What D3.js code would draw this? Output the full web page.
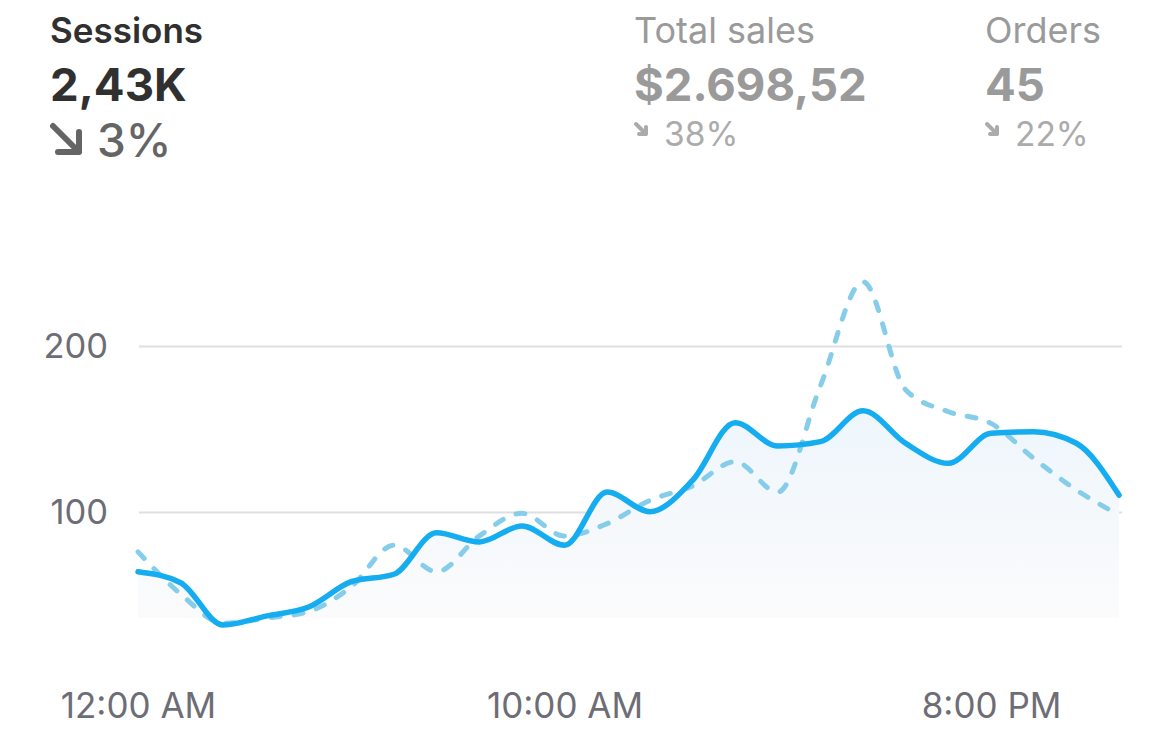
<!DOCTYPE html>
<html>
<head>
<meta charset="utf-8">
<script src="https://cdn.jsdelivr.net/npm/d3@7"></script>
<style>
  body { margin: 0; background: #fff; }
  svg { display: block; font-family: Inter, "Noto Sans", sans-serif; }
</style>
</head>
<body>
<svg id="chart"></svg>
<script>
// hourly data, 12 AM .. 11 PM
const hours = [0, 1, 2, 3, 4, 5, 6, 7, 8, 9, 10, 11, 12, 13, 14, 15, 16, 17, 18, 19, 20, 21, 22, 23];
const sessions = [64, 57.4, 31.9, 37.3, 42.8, 58, 62.5, 87.5, 82, 91.6, 80, 112, 100.2, 119, 153.8, 139.8, 142.4, 161, 141.3, 129.3, 147.4, 148.4, 141.4, 110.2];
const previous = [76, 50.6, 33, 36, 40, 55, 80, 64, 85.5, 99.2, 85.5, 93, 107, 115.7, 130.3, 112, 176, 238.7, 173.5, 160.4, 153.4, 132.3, 113.3, 98.2];

const xTickHours = [0, 10, 20];
const xTickLabels = ["12:00 AM", "10:00 AM", "8:00 PM"];
const yTicks = [100, 200];

// header metrics
const metricNames = ["Sessions", "Total sales", "Orders"];
const metricValues = ["2,43K", "$2.698,52", "45"];
const metricChanges = ["3%", "38%", "22%"];

const W = 1170, H = 753;
const svg = d3.select("#chart").attr("width", W).attr("height", H);

// --- header ---
const headerX = [50, 634, 985];
const header = svg.selectAll(".metric")
  .data(metricNames.map((n, i) => ({ name: n, value: metricValues[i], change: metricChanges[i], i })))
  .enter().append("g")
  .attr("class", "metric")
  .attr("transform", d => `translate(${headerX[d.i]},0)`);

header.append("text")
  .attr("y", 43)
  .style("font-size", d => d.i === 0 ? "35px" : "36px")
  .style("font-weight", d => d.i === 0 ? 600 : 400)
  .style("fill", d => d.i === 0 ? "#303030" : "#9a9a9a")
  .text(d => d.name);

header.append("text")
  .attr("y", 101)
  .style("font-size", "45.5px")
  .style("font-weight", 700)
  .style("fill", d => d.i === 0 ? "#303030" : "#9a9a9a")
  .text(d => d.value);

// arrows (icons)
header.each(function(d) {
  const g = d3.select(this);
  if (d.i === 0) {
    g.append("path")
      .attr("d", "M3,126 L29,152 M29,132 L29,152 L8,152")
      .attr("fill", "none")
      .attr("stroke", "#656565")
      .attr("stroke-width", 6)
      .attr("stroke-linecap", "round")
      .attr("stroke-linejoin", "round");
  } else {
    g.append("path")
      .attr("d", "M2,124 L12,134 M12,127 L12,134 L5,134")
      .attr("fill", "none")
      .attr("stroke", "#ababab")
      .attr("stroke-width", 4)
      .attr("stroke-linecap", "round")
      .attr("stroke-linejoin", "round");
  }
});

header.append("text")
  .attr("x", d => d.i === 0 ? 47 : 30)
  .attr("y", d => d.i === 0 ? 157 : 146)
  .style("font-size", d => d.i === 0 ? "46px" : "33.5px")
  .style("font-weight", d => d.i === 0 ? 500 : 400)
  .style("fill", d => d.i === 0 ? "#656565" : "#ababab")
  .text(d => d.change);

// --- chart ---
const x = d3.scaleLinear().domain([0, 23]).range([138, 1119]);
const y = d3.scaleLinear().domain([0, 200]).range([678, 346]);
const gridLeft = 139, gridRight = 1122;
const areaBottom = 618;

// y grid + labels
const yAxis = svg.append("g")
  .attr("transform", `translate(${gridLeft},0)`)
  .call(d3.axisLeft(y).tickValues(yTicks).tickSize(-(gridRight - gridLeft)).tickPadding(31));
yAxis.select(".domain").remove();
yAxis.selectAll(".tick line").attr("stroke", "#dfdfe1").attr("stroke-width", 2);
yAxis.selectAll(".tick text")
  .attr("fill", "#6d6d76")
  .style("font-size", "34.5px")
  .style("font-family", "Inter, sans-serif");

// x labels
const xAxis = svg.append("g")
  .attr("transform", `translate(0,${y(0)})`)
  .call(d3.axisBottom(x).tickValues(xTickHours).tickFormat((d, i) => xTickLabels[i]).tickSize(0).tickPadding(15));
xAxis.select(".domain").remove();
xAxis.selectAll(".tick text")
  .attr("fill", "#6d6d76")
  .style("font-size", "35px")
  .style("font-family", "Inter, sans-serif");

// gradient for area
const defs = svg.append("defs");
const grad = defs.append("linearGradient")
  .attr("id", "areaGrad")
  .attr("gradientUnits", "userSpaceOnUse")
  .attr("x1", 0).attr("x2", 0)
  .attr("y1", y(160)).attr("y2", areaBottom);
grad.append("stop").attr("offset", "0%").attr("stop-color", "#eef6fc");
grad.append("stop").attr("offset", "100%").attr("stop-color", "#fbfbfc");

const area = d3.area()
  .x((d, i) => x(hours[i]))
  .y0(areaBottom)
  .y1(d => y(d))
  .curve(d3.curveMonotoneX);

svg.append("path")
  .datum(sessions)
  .attr("d", area)
  .attr("fill", "url(#areaGrad)");

const line = d3.line()
  .x((d, i) => x(hours[i]))
  .y(d => y(d))
  .curve(d3.curveMonotoneX);

// previous period (dashed)
svg.append("path")
  .datum(previous)
  .attr("d", line)
  .attr("fill", "none")
  .attr("stroke", "#86cdea")
  .attr("stroke-width", 5)
  .attr("stroke-linecap", "round")
  .attr("stroke-dasharray", "9 14");

// current period
svg.append("path")
  .datum(sessions)
  .attr("d", line)
  .attr("fill", "none")
  .attr("stroke", "#15adf0")
  .attr("stroke-width", 5.5)
  .attr("stroke-linecap", "round")
  .attr("stroke-linejoin", "round");
</script>
</body>
</html>
